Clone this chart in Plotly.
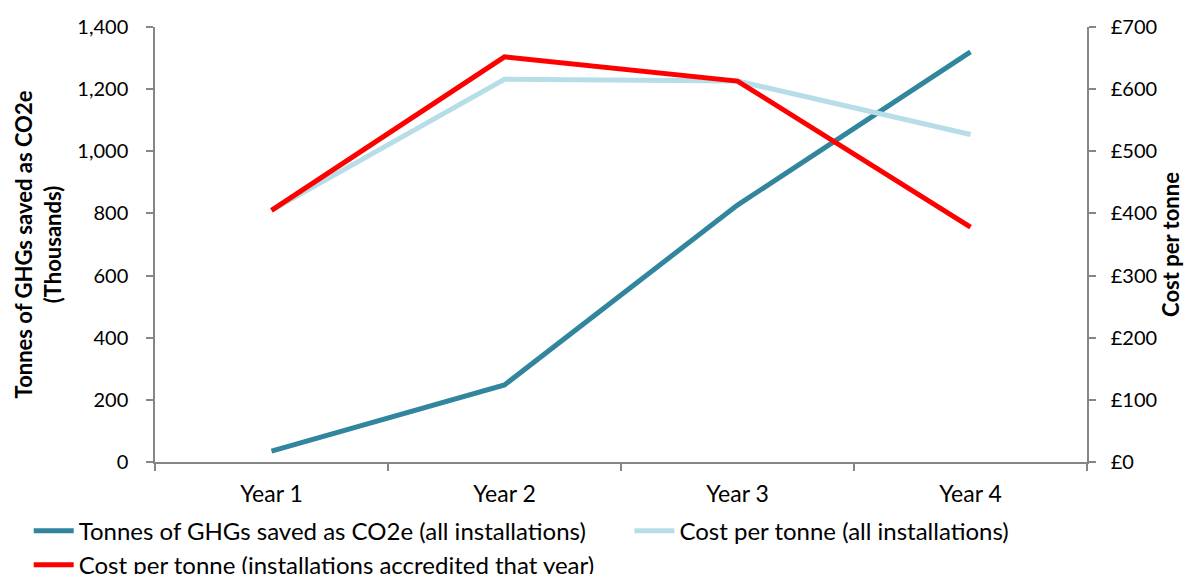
import plotly.graph_objects as go

years = ["Year 1", "Year 2", "Year 3", "Year 4"]
tonnes_saved = [35, 248, 827, 1320]
cost_all = [405, 616, 613, 527]
cost_accredited = [405, 652, 613, 378]

FONT = "Lato, 'Open Sans', sans-serif"
AX = "#868686"

fig = go.Figure()
fig.add_trace(go.Scatter(x=years, y=tonnes_saved, mode="lines",
                         name="Tonnes of GHGs saved as CO2e (all installations)",
                         line=dict(color="#31859C", width=5), yaxis="y",
                         legend="legend", legendgroup="a"))
fig.add_trace(go.Scatter(x=years, y=cost_all, mode="lines",
                         name="Cost per tonne (all installations)",
                         line=dict(color="#B7DEE8", width=5), yaxis="y2",
                         legend="legend2", legendgroup="b"))
fig.add_trace(go.Scatter(x=years, y=cost_accredited, mode="lines",
                         name="Cost per tonne (installations accredited that year)",
                         line=dict(color="#FF0000", width=5), yaxis="y2",
                         legend="legend", legendgroup="c"))

leg_common = dict(orientation="v", xanchor="left", yanchor="top",
                  font=dict(size=24), itemwidth=40, tracegroupgap=0,
                  traceorder="grouped", bgcolor="rgba(0,0,0,0)")

fig.update_layout(
    width=1176, height=566,
    margin=dict(l=147, r=97, t=19, b=112, autoexpand=False),
    paper_bgcolor="white", plot_bgcolor="white",
    font=dict(family=FONT, size=20, color="#000000"),
    showlegend=True,
    legend=dict(x=-0.1355, y=-0.107, **leg_common),
    legend2=dict(x=0.509, y=-0.107, **leg_common),
    xaxis=dict(range=[-0.5, 3.5], showline=True, linecolor=AX, linewidth=1.5,
               ticks="outside", tickson="boundaries", ticklen=7, tickcolor=AX,
               tickwidth=1.5, showgrid=False, zeroline=False,
               tickfont=dict(size=23), ticklabelstandoff=11),
    yaxis=dict(range=[0, 1400], dtick=200, tickformat=",", showline=True,
               linecolor=AX, linewidth=1.5, ticks="outside", ticklen=7,
               tickcolor=AX, tickwidth=1.5, showgrid=False, zeroline=False,
               tickfont=dict(size=20), ticklabelstandoff=14, automargin=False,
               title=dict(text="<b>Tonnes of GHGs saved as CO2e<br>(Thousands)</b>",
                          font=dict(size=22), standoff=10)),
    yaxis2=dict(range=[0, 700], dtick=100, tickprefix="£", overlaying="y",
                side="right", showline=True, linecolor=AX, linewidth=1.5,
                ticks="outside", ticklen=7, tickcolor=AX, tickwidth=1.5,
                showgrid=False, zeroline=False, tickfont=dict(size=20),
                ticklabelstandoff=11, automargin=False,
                title=dict(text="<b>Cost per tonne</b>", font=dict(size=22), standoff=20)),
)

fig.write_html("out.html")
